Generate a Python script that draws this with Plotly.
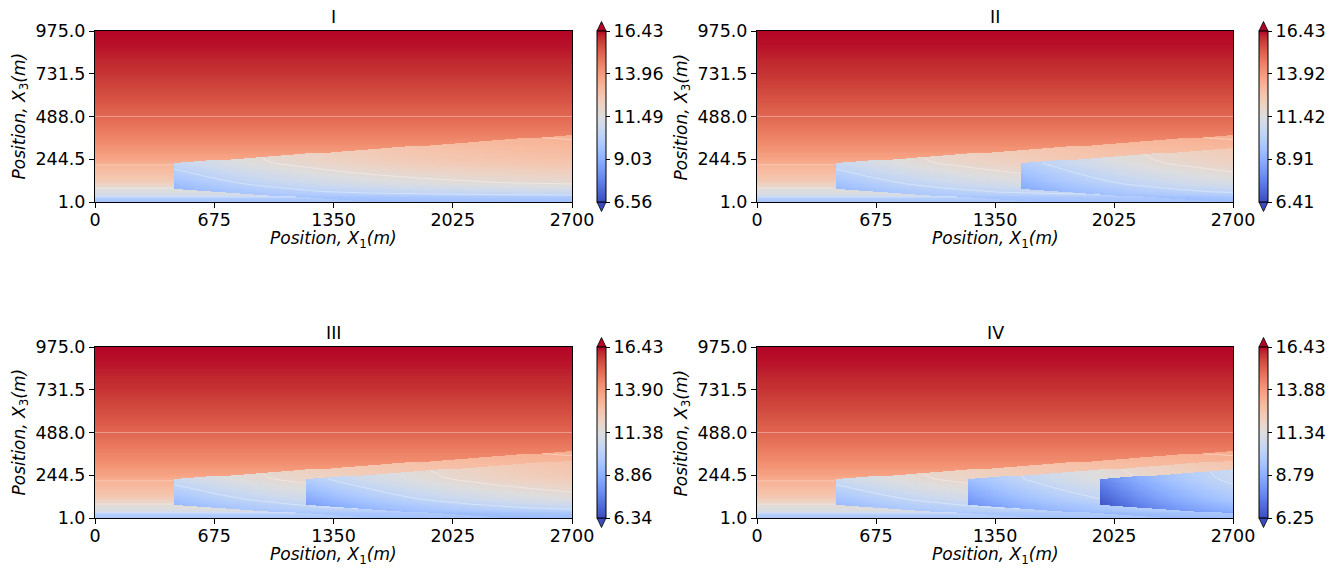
import numpy as np
import plotly.graph_objects as go

# ---------------- data ----------------
panel_titles = ["I", "II", "III", "IV"]
cbar_ticks = [
    [6.56, 9.03, 11.49, 13.96, 16.43],
    [6.41, 8.91, 11.42, 13.92, 16.43],
    [6.34, 8.86, 11.38, 13.90, 16.43],
    [6.25, 8.79, 11.34, 13.88, 16.43],
]
x_ticks = [0, 675, 1350, 2025, 2700]
y_ticks = [1.0, 244.5, 488.0, 731.5, 975.0]

# background temperature vs height (m)
bg_height = [1, 15, 28, 40, 75, 120, 195, 244.5, 320, 422, 488, 612, 731.5, 878, 975]
bg_temp = [9.7, 9.9, 10.2, 11.1, 11.6, 12.5, 13.1, 13.66, 14.2, 14.75, 15.05, 15.55, 15.95, 16.3, 16.43]

# temperature that a cold plume relaxes to, vs height (m)
far_height = [1, 24, 60, 110, 240, 373, 450]
far_temp = [9.6, 9.9, 11.1, 12.0, 13.0, 13.6, 13.9]

# cold plumes per panel: start position, temperature at top / bottom of inlet
plume_start = [[450], [450, 1500], [450, 1200], [450, 1200, 1950]]
plume_top_temp = [[10.7], [10.7, 10.0], [10.7, 10.0], [10.7, 9.3, 7.6]]
plume_bot_temp = [[9.2], [9.2, 8.7], [9.1, 8.3], [9.1, 7.9, 6.4]]
plume_top_height = 223.0
plume_bot_height = 74.0
plume_top_slope = 0.071
plume_bot_slope = 0.0625
mix_length = 900.0

# heights (m) of the faint isotherm lines seen in the undisturbed background
isoline_height = [488.0, 212.0, 80.0, 30.0]

# matplotlib "coolwarm"
coolwarm_rgb = [
    (59, 76, 192), (68, 90, 204), (77, 104, 215), (87, 117, 225), (98, 130, 234),
    (108, 142, 241), (119, 154, 247), (130, 165, 251), (141, 176, 254), (152, 185, 255),
    (163, 194, 255), (174, 201, 253), (184, 208, 249), (194, 213, 244), (204, 217, 238),
    (213, 219, 230), (221, 221, 221), (229, 216, 209), (236, 211, 197), (241, 204, 185),
    (245, 196, 173), (247, 187, 160), (247, 177, 148), (247, 166, 135), (244, 154, 123),
    (241, 141, 111), (236, 127, 99), (229, 112, 88), (222, 96, 77), (213, 80, 66),
    (203, 62, 56), (192, 40, 47), (180, 4, 38)]
colorscale = [[i / (len(coolwarm_rgb) - 1), "rgb(%d,%d,%d)" % c] for i, c in enumerate(coolwarm_rgb)]

# ---------------- field construction ----------------
xs = np.arange(0, 2701, 6.0)
ys = np.linspace(1, 975, 196)
X, Y = np.meshgrid(xs, ys)


def build_field(k):
    T = np.interp(Y, bg_height, bg_temp)
    layer = np.zeros(T.shape, dtype=int)
    Tf = np.interp(Y, far_height, far_temp)
    eta = np.clip((Y - plume_bot_height) / (plume_top_height - plume_bot_height), 0, 1)
    for n, (x0, tt, tb) in enumerate(zip(plume_start[k], plume_top_temp[k], plume_bot_temp[k])):
        s = X - x0
        up = plume_top_height + plume_top_slope * s
        lo = np.maximum(plume_bot_height - plume_bot_slope * s, 0.0)
        mask = (s >= 0) & (Y <= up) & (Y >= lo)
        Tl = tb + (tt - tb) * eta
        Tp = Tf + (Tl - Tf) * np.exp(-np.clip(s, 0, None) / mix_length)
        T = np.where(mask, Tp, T)
        layer = np.where(mask, n + 1, layer)
    return np.round(T, 3), layer


def isolines(T, layer, levels):
    """Per-column crossings of each level, inside each continuous layer."""
    lx, ly = [], []
    for lev in levels:
        for lid in np.unique(layer):
            same = (layer[:-1] == lid) & (layer[1:] == lid)
            d0 = T[:-1] - lev
            d1 = T[1:] - lev
            cond = same & (d0 * d1 <= 0) & (d0 != d1)
            valid = cond.any(axis=0)
            idx = cond.argmax(axis=0)
            prev = False
            for j in range(len(xs)):
                if valid[j]:
                    i = idx[j]
                    t0, t1 = T[i, j], T[i + 1, j]
                    yy = ys[i] + (lev - t0) / (t1 - t0) * (ys[i + 1] - ys[i])
                    lx.append(xs[j]); ly.append(round(float(yy), 2))
                    prev = True
                elif prev:
                    lx.append(None); ly.append(None)
                    prev = False
            lx.append(None); ly.append(None)
    return lx, ly


iso_levels = list(np.interp(isoline_height, bg_height, bg_temp))

W, H = 1338, 568
px_x = [(95, 572), (757, 1233), (95, 572), (757, 1233)]
px_y = [(31, 202), (31, 202), (347, 518), (347, 518)]
cb_x = [597, 1259, 597, 1259]
cb_w = 9

fig = go.Figure()
font = dict(family="DejaVu Sans", size=17.5, color="black")
tfont = dict(family="DejaVu Sans", size=17, color="black")
layout = dict(width=W, height=H, margin=dict(l=0, r=0, t=0, b=0, autoexpand=False),
              paper_bgcolor="white", plot_bgcolor="white",
              font=font, showlegend=False)
annotations = []
shapes = []

for k in range(4):
    ax = "" if k == 0 else str(k + 1)
    x0p, x1p = px_x[k]
    y0p, y1p = px_y[k]
    dom_x = [x0p / W, x1p / W]
    dom_y = [1 - y1p / H, 1 - y0p / H]
    z, layer = build_field(k)
    cvals = cbar_ticks[k]
    fig.add_trace(go.Heatmap(
        x=xs, y=ys, z=z, xaxis="x" + ax, yaxis="y" + ax,
        colorscale=colorscale, zmin=cvals[0], zmax=cvals[-1],
        zsmooth=False, hoverinfo="skip",
        colorbar=dict(x=cb_x[k] / W, xanchor="left", xpad=0, ypad=0,
                      y=(dom_y[0] + dom_y[1]) / 2, yanchor="middle",
                      len=(y1p - y0p), lenmode="pixels",
                      thickness=cb_w, thicknessmode="pixels",
                      outlinewidth=1, outlinecolor="black",
                      ticks="outside", ticklen=4, tickcolor="black",
                      tickvals=cvals, ticktext=["%.2f" % v for v in cvals],
                      tickfont=font)))
    lx, ly = isolines(z, layer, iso_levels)
    fig.add_trace(go.Scatter(x=lx, y=ly, mode="lines", xaxis="x" + ax, yaxis="y" + ax,
                             line=dict(color="rgba(255,255,255,0.35)", width=1),
                             hoverinfo="skip", connectgaps=False))
    layout["xaxis" + ax] = dict(domain=dom_x, anchor="y" + ax, range=[0, 2700],
                                tickvals=x_ticks, ticktext=[str(v) for v in x_ticks],
                                showline=True, mirror=True, linecolor="black", linewidth=1,
                                ticks="outside", ticklen=5, tickcolor="black",
                                ticklabelstandoff=-3,
                                showgrid=False, zeroline=False, tickfont=font)
    layout["yaxis" + ax] = dict(domain=dom_y, anchor="x" + ax, range=[1, 975],
                                tickvals=y_ticks, ticktext=["%.1f" % v for v in y_ticks],
                                showline=True, mirror=True, linecolor="black", linewidth=1,
                                ticks="outside", ticklen=5, tickcolor="black",
                                showgrid=False, zeroline=False, tickfont=font)
    cx = (dom_x[0] + dom_x[1]) / 2
    annotations.append(dict(text=panel_titles[k], x=cx, y=1 - (y0p - 14) / H,
                            xref="paper", yref="paper", showarrow=False,
                            xanchor="center", yanchor="middle", font=font))
    annotations.append(dict(text="<i>Position, X</i><sub>1</sub><i>(m)</i>", x=cx,
                            y=1 - (y1p + 37) / H, xref="paper", yref="paper",
                            showarrow=False, xanchor="center", yanchor="middle", font=tfont))
    annotations.append(dict(text="<i>Position, X</i><sub>3</sub><i>(m)</i>",
                            x=(x0p - 75) / W, y=(dom_y[0] + dom_y[1]) / 2,
                            xref="paper", yref="paper", showarrow=False, textangle=-90,
                            xanchor="center", yanchor="middle", font=tfont))
    # colorbar extension arrows
    l, r = cb_x[k] / W, (cb_x[k] + cb_w) / W
    m = (l + r) / 2
    ytop = 1 - y0p / H
    ybot = 1 - y1p / H
    ah = 9.5 / H
    shapes.append(dict(type="path", xref="paper", yref="paper",
                       path="M %f,%f L %f,%f L %f,%f Z" % (l, ytop, r, ytop, m, ytop + ah),
                       fillcolor="rgb(180,4,38)", line=dict(color="black", width=0.8)))
    shapes.append(dict(type="path", xref="paper", yref="paper",
                       path="M %f,%f L %f,%f L %f,%f Z" % (l, ybot, r, ybot, m, ybot - ah),
                       fillcolor="rgb(59,76,192)", line=dict(color="black", width=0.8)))

layout["annotations"] = annotations
layout["shapes"] = shapes
fig.update_layout(**layout)
fig.write_html("out.html")
